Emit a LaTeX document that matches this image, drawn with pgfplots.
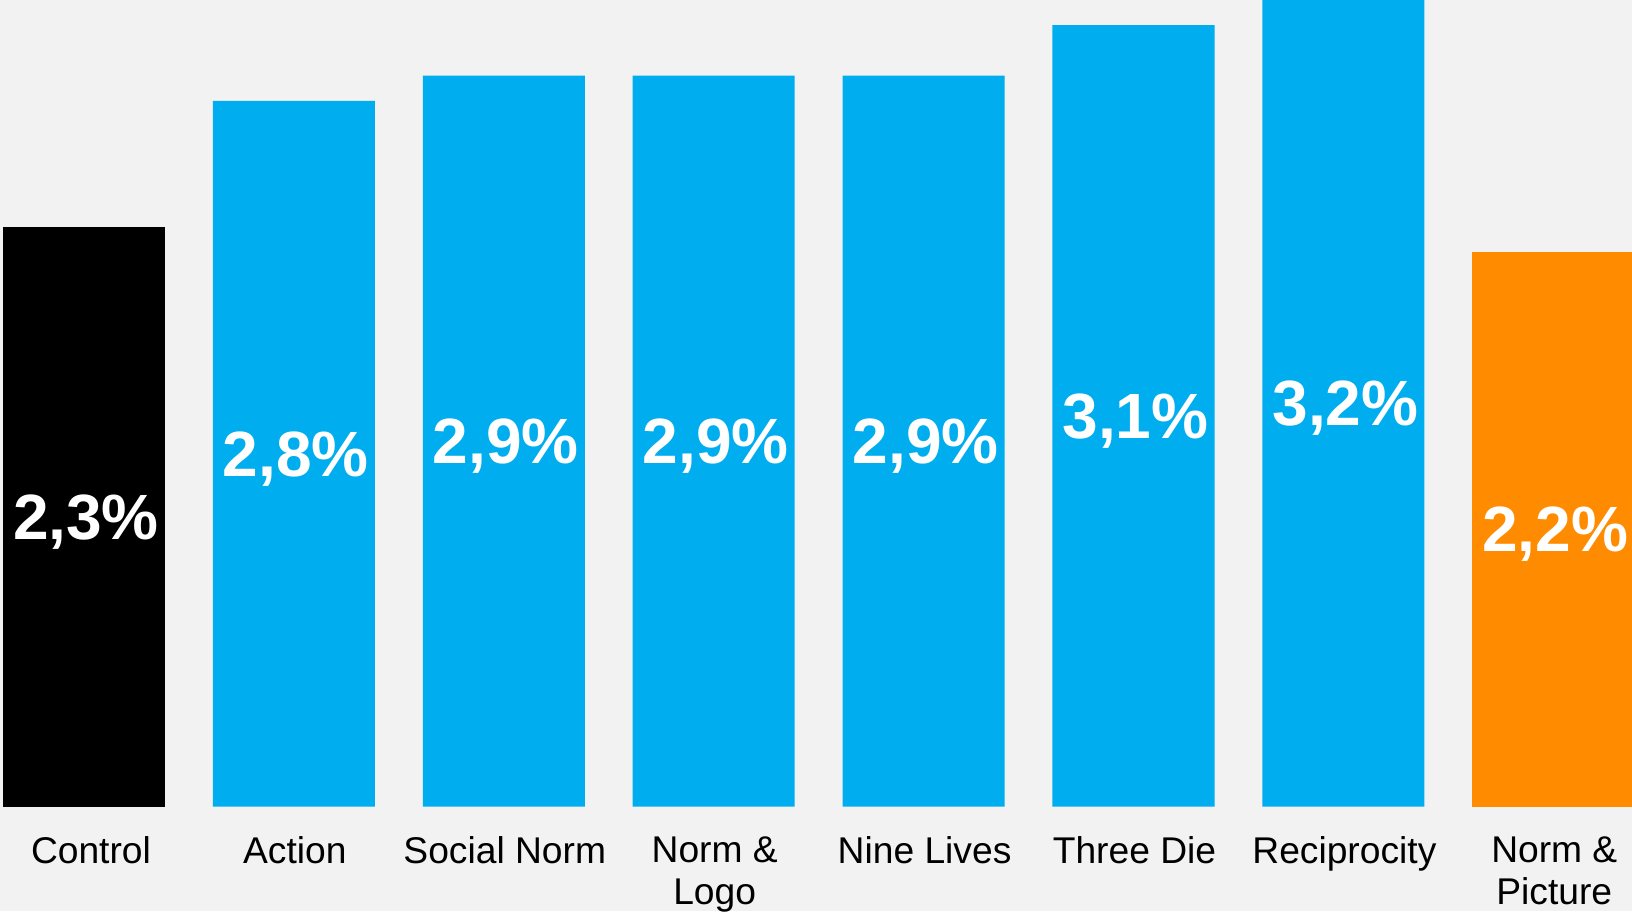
\documentclass[border=0pt]{standalone}
\usepackage{pgfplots}
\pgfplotsset{compat=1.18}
\usepackage{fontspec}
\setmainfont{Liberation Sans}
\definecolor{bg}{HTML}{F2F2F2}
\definecolor{cblue}{HTML}{00AEEF}
\definecolor{corange}{HTML}{FF8C00}
\begin{document}
\begin{tikzpicture}
\fill[bg] (0pt,-52.15pt) rectangle (816pt,403.35pt);
\begin{axis}[at={(0pt,0pt)}, anchor=south west, scale only axis,
 width=816pt, height=403.35pt,
 xmin=-0.4, xmax=7.375, ymin=0, ymax=3.2,
 axis line style={draw=none}, major tick length=0pt, ytick=\empty,
 xtick={0,...,7},
 xticklabels={\hspace*{6pt}Control,Action,Social Norm,{Norm \&\\Logo},Nine Lives,Three Die,Reciprocity,{Norm \&\\Picture}},
 xticklabel style={anchor=north, inner sep=0pt, yshift=-14.6pt, xshift=0.5pt, align=center, font=\fontsize{18.6}{21.2}\selectfont},
 ybar, bar width=0.772, bar shift=0pt,
 nodes near coords={\pgfmathprintnumber[fixed,fixed zerofill,precision=1,use comma,assume math mode=true]{\pgfplotspointmeta}\%},
 visualization depends on=rawy \as \rawy,
 every node near coord/.append style={anchor=center, shift={(axis direction cs:0,-\rawy/2)}, xshift=1pt, text=white, font=\bfseries\fontsize{32}{38}\selectfont, inner sep=0pt, text depth=0pt},
]
\addplot[fill=black, draw=none] coordinates {(0,2.3)};
\addplot[fill=cblue, draw=none] coordinates {(1,2.8) (2,2.9) (3,2.9) (4,2.9) (5,3.1) (6,3.2)};
\addplot[fill=corange, draw=none] coordinates {(7,2.2)};
\end{axis}
\pgfresetboundingbox
\path[use as bounding box] (0pt,-52.15pt) rectangle (816pt,403.35pt);
\end{tikzpicture}
\end{document}
